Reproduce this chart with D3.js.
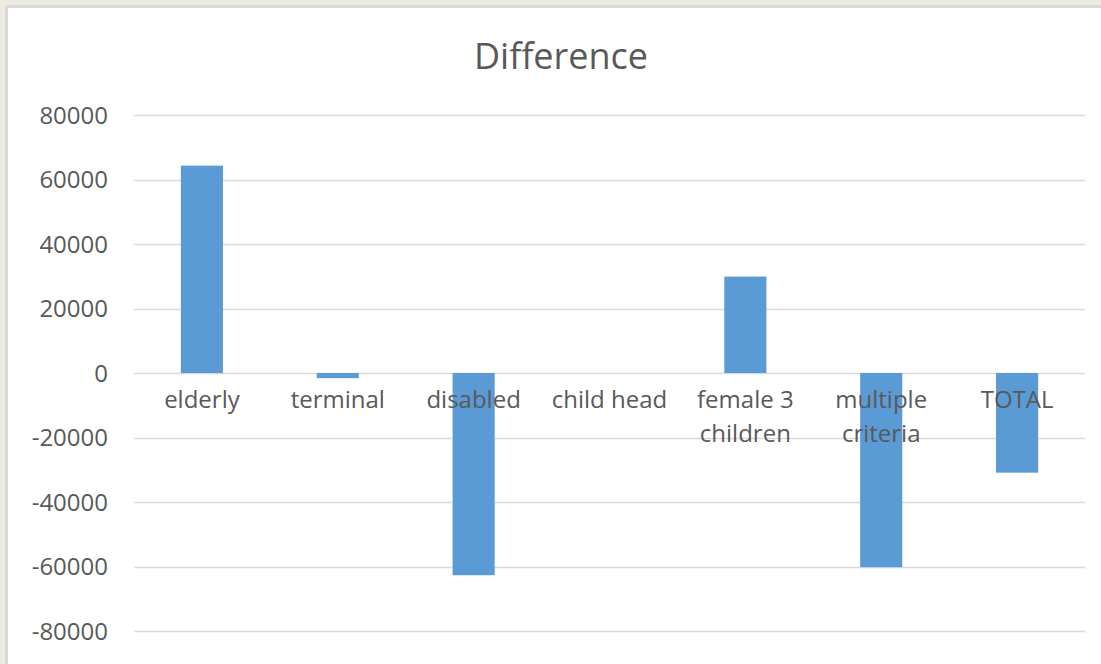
<!DOCTYPE html>
<html lang="en">
<head>
  <meta charset="UTF-8">
  <title>Difference</title>
  <script src="https://d3js.org/d3.v7.min.js"></script>
  <style>
    body { margin: 0; background: #eeebe4; }
    svg { display: block; }
    text { font-family: 'Open Sans', sans-serif; fill: #595959; }
  </style>
</head>
<body>
  <svg width="1101" height="664"></svg>
  <script>
    // chart values
    const categories = ["elderly", "terminal", "disabled", "child head", "female 3\nchildren", "multiple\ncriteria", "TOTAL"];
    const values = [64300, -1600, -62700, 0, 29900, -60200, -30900];
    const tickValues = [-80000, -60000, -40000, -20000, 0, 20000, 40000, 60000, 80000];
    const title = "Difference";

    const width = 1101, height = 664;
    const margin = { top: 115, right: 16, bottom: 33, left: 134 };
    const svg = d3.select("svg");

    // chart frame
    svg.append("rect").attr("x", 5).attr("y", 5).attr("width", width).attr("height", height)
      .attr("fill", "#d9d9d9");
    svg.append("rect").attr("x", 8).attr("y", 8).attr("width", width).attr("height", height)
      .attr("fill", "#fff");

    const x = d3.scaleBand()
      .domain(categories)
      .range([margin.left, width - margin.right])
      .paddingInner(0.69)
      .paddingOuter(0.345);

    const y = d3.scaleLinear()
      .domain([-80000, 80000])
      .range([height - margin.bottom, margin.top]);

    // gridlines
    svg.append("g")
      .selectAll("line")
      .data(tickValues)
      .join("line")
      .attr("x1", margin.left)
      .attr("x2", width - margin.right)
      .attr("y1", d => Math.round(y(d)) + 0.5)
      .attr("y2", d => Math.round(y(d)) + 0.5)
      .attr("stroke", "#d9d9d9")
      .attr("stroke-width", 1.3);

    // y tick labels
    svg.append("g")
      .selectAll("text")
      .data(tickValues)
      .join("text")
      .attr("x", 108)
      .attr("y", d => y(d) + 8.5)
      .attr("text-anchor", "end")
      .style("font-size", "24px")
      .text(d => d);

    // bars
    svg.append("g")
      .selectAll("rect")
      .data(values)
      .join("rect")
      .attr("x", (d, i) => x(categories[i]))
      .attr("width", x.bandwidth())
      .attr("y", d => y(Math.max(0, d)))
      .attr("height", d => Math.abs(y(d) - y(0)))
      .attr("fill", "#5b9bd5");

    // category labels (drawn over the bars)
    const labels = svg.append("g")
      .selectAll("text")
      .data(categories)
      .join("text")
      .attr("x", d => x(d) + x.bandwidth() / 2)
      .attr("y", 408)
      .attr("text-anchor", "middle")
      .style("font-size", "24px");
    labels.selectAll("tspan")
      .data(d => d.split("\n"))
      .join("tspan")
      .attr("x", function() { return this.parentNode.getAttribute("x"); })
      .attr("dy", (d, i) => i === 0 ? 0 : 34)
      .text(d => d);

    // title
    svg.append("text")
      .attr("x", 561)
      .attr("y", 69)
      .attr("text-anchor", "middle")
      .style("font-size", "36px")
      .text(title);
  </script>
</body>
</html>
